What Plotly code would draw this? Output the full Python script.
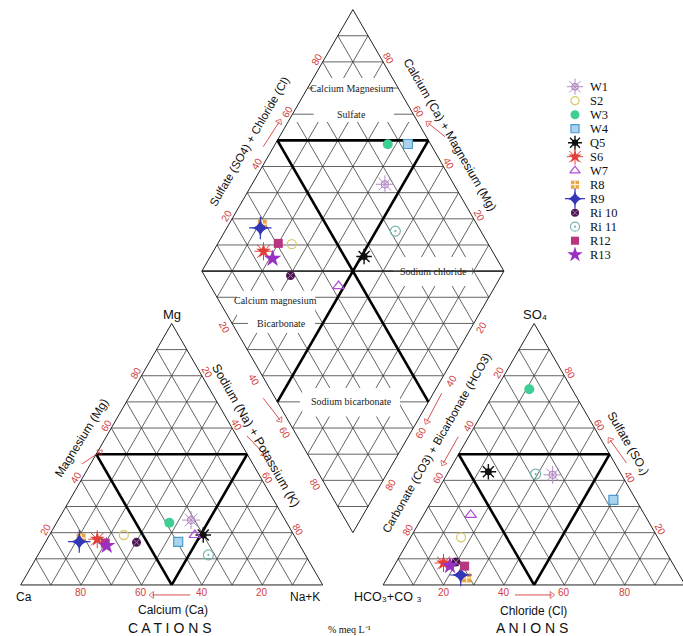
import numpy as np
import plotly.graph_objects as go

# ---------------- sample chemistry (% meq/L) ----------------
samples = ["W1", "S2", "W3", "W4", "Q5", "S6", "W7", "R8", "R9", "Ri 10", "Ri 11", "R12", "R13"]
ca_pct  = [31.2, 56.3, 38.9, 39.6, 30.0, 65.9, 32.8, 71.0, 72.3, 53.5, 32.1, 64.0, 64.0]
mg_pct  = [24.8, 19.1, 23.8, 16.5, 19.1, 17.5, 19.1, 18.0, 16.6, 16.3, 11.5, 16.0, 15.0]
so4_pct = [42.1, 18.2, 74.8, 32.5, 43.3,  8.4, 26.8,  2.7,  3.8,  8.8, 42.4,  7.2,  7.3]
cl_pct  = [35.1, 16.7, 11.0, 60.0, 13.2, 15.8, 15.6, 26.3, 23.8, 19.7, 29.3, 23.4, 18.5]

tick_values = [20, 40, 60, 80]

# ---------------- marker styles per sample ----------------
# each layer: (symbol, size, colour, line width)
styles = {
    "W1":    [("circle-open", 7, "#b48cc4", 1.2), ("asterisk-open", 15, "#b48cc4", 1.0)],
    "S2":    [("circle-open", 9, "#d8cb6c", 1.3)],
    "W3":    [("circle", 10, "#3fcf95", 0)],
    "W4":    [("square", 9, "#a9d3ef", 1.2)],
    "Q5":    [("circle", 7, "#111111", 0), ("asterisk-open", 13, "#111111", 1.4)],
    "S6":    [("star", 11, "#e0403a", 0), ("asterisk-open", 15, "#e0403a", 1.0)],
    "W7":    [("triangle-up-open", 10, "#b14ad6", 1.2)],
    "R8":    [("square", 9, "#e8a64a", 0), ("cross-thin-open", 6, "#fff0cc", 1.2)],
    "R9":    [("star-diamond", 12, "#3437b8", 0), ("cross-thin-open", 16, "#3437b8", 1.2)],
    "Ri 10": [("circle", 9, "#4c1750", 0), ("x-thin-open", 6, "#a07aa6", 1.0)],
    "Ri 11": [("circle-open-dot", 10, "#74b4ad", 1.2)],
    "R12":   [("square", 9, "#b8367f", 0)],
    "R13":   [("star", 13, "#9a2fc4", 0)],
}
square_edge = {"W4": "#4b9bd0"}

S = np.sqrt(3) / 2
GAP = 20.0                       # gap between the two triangles
AX0 = 100 + GAP                  # left x of the anion triangle
DB = (100 + GAP / 2, GAP * S)    # bottom vertex of the diamond
DMID = DB[1] + 100 * S           # height of the diamond's side vertices

RED = "#d23c3c"
GRID = "#3c3c3c"
SANS = "Liberation Sans, Arial, sans-serif"
SERIF = "Liberation Serif, Times New Roman, serif"

ca = np.array(ca_pct); mg = np.array(mg_pct)
nak = 100 - ca - mg
so4 = np.array(so4_pct); cl = np.array(cl_pct)
hco3 = 100 - so4 - cl

# ---------------- Piper projections ----------------
cat_x = nak + mg / 2
cat_y = mg * S
an_x = AX0 + cl + so4 / 2
an_y = so4 * S
u = so4 + cl          # SO4 + Cl
v = ca + mg           # Ca + Mg
dm_x = DB[0] + 0.5 * (u - v)
dm_y = DB[1] + S * (u + v)

fig = go.Figure()


def add_lines(segs, color, width):
    xs, ys = [], []
    for (p, q) in segs:
        xs += [p[0], q[0], None]
        ys += [p[1], q[1], None]
    fig.add_trace(go.Scatter(x=xs, y=ys, mode="lines", line=dict(color=color, width=width),
                             hoverinfo="skip", showlegend=False))


def tri_grid(ox, oy, sgn):
    segs = []
    for k in range(1, 10):
        t = 10 * k
        segs.append(((ox + t / 2, oy + sgn * t * S), (ox + 100 - t / 2, oy + sgn * t * S)))
        segs.append(((ox + t, oy), (ox + 50 + t / 2, oy + sgn * (100 - t) * S)))
        segs.append(((ox + t, oy), (ox + t / 2, oy + sgn * t * S)))
    return segs


def tri_outline(ox, oy, sgn):
    return [((ox, oy), (ox + 100, oy)), ((ox + 100, oy), (ox + 50, oy + sgn * 100 * S)),
            ((ox + 50, oy + sgn * 100 * S), (ox, oy))]


def diamond_half_width(y):
    # half width of the diamond at height y
    return 50 - abs(y - DMID) / (2 * S)


# ---------------- grids ----------------
# horizontal lines of the diamond that carry facies names are drawn later, with a gap
name_levels = {7: DMID + 70 * S, 6: DMID + 60 * S, 0: DMID, -1: DMID - 10 * S, -2: DMID - 20 * S, -5: DMID - 50 * S}


def is_name_level(y):
    return any(abs(y - yl) < 1e-6 for yl in name_levels.values())


grid = tri_grid(0, 0, 1) + tri_grid(AX0, 0, 1)
for seg in tri_grid(DB[0] - 50, DMID, 1) + tri_grid(DB[0] - 50, DMID, -1):
    (p, q) = seg
    if abs(p[1] - q[1]) < 1e-9 and is_name_level(p[1]):
        continue
    grid.append(seg)
add_lines(grid, GRID, 0.8)


# white areas behind the hydrochemical facies names
def band_poly(y0, y1):
    ys = [y0, y0, y1, y1, y0]
    xs = [DB[0] - diamond_half_width(y0), DB[0] + diamond_half_width(y0),
          DB[0] + diamond_half_width(y1), DB[0] - diamond_half_width(y1), DB[0] - diamond_half_width(y0)]
    return xs, ys


def rect_poly(x0, x1, y0, y1):
    return [x0, x1, x1, x0, x0], [y0, y0, y1, y1, y0]


boxes = [band_poly(153.3, 167.9), rect_poly(124.0, 149.4, 99.0, 108.6),
         rect_poly(71.6, 97.5, 83.4, 97.4), rect_poly(93.2, 125.6, 55.8, 65.2)]
for bx, by in boxes:
    fig.add_trace(go.Scatter(x=bx, y=by, mode="lines", fill="toself", fillcolor="white",
                             line=dict(color="white", width=0), hoverinfo="skip", showlegend=False))

# facies name lines: (level, gap start x, gap end x)
name_gaps = [(7, 97.0, 122.3), (6, 97.0, 123.6), (0, 123.3, 150.8),
             (-1, 71.6, 97.5), (-2, 75.3, 97.5), (-5, 92.5, 125.6)]
gap_segs = []
for lvl, g0, g1 in name_gaps:
    y = name_levels[lvl]
    hw = diamond_half_width(y)
    gap_segs.append(((DB[0] - hw, y), (g0, y)))
    gap_segs.append(((g1, y), (DB[0] + hw, y)))
add_lines(gap_segs, GRID, 0.8)

# outlines
outline = tri_outline(0, 0, 1) + tri_outline(AX0, 0, 1) + tri_outline(DB[0] - 50, DMID, 1) + tri_outline(DB[0] - 50, DMID, -1)
add_lines(outline, "#222222", 1.0)

# thick classification lines
h = 50 * S
thick = [((25, h), (75, h)), ((75, h), (50, 0)), ((50, 0), (25, h)),
         ((AX0 + 25, h), (AX0 + 75, h)), ((AX0 + 75, h), (AX0 + 50, 0)), ((AX0 + 50, 0), (AX0 + 25, h)),
         ((DB[0] - 25, DMID + h), (DB[0] + 25, DMID + h)),
         ((DB[0] - 25, DMID + h), (DB[0] + 25, DMID - h)),
         ((DB[0] + 25, DMID + h), (DB[0] - 25, DMID - h))]
add_lines(thick, "#000000", 2.6)

# ---------------- direction arrows ----------------
arrows = [
    ((56.06, -3.31), (43.48, -3.31)),
    ((20.30, 40.07), (26.26, 44.04)),
    ((74.93, 49.34), (80.56, 43.38)),
    ((80.33, 61.82), (85.86, 54.64)),
    ((163.67, -3.31), (175.83, -3.31)),
    ((200.66, 40.30), (195.13, 48.01)),
    ((144.90, 49.11), (139.93, 40.30)),
    ((139.40, 63.48), (134.44, 54.07)),
    ((80.33, 145.13), (85.63, 153.41)),
    ((140.50, 148.44), (134.97, 152.88)),
]
for (tail, head) in arrows:
    fig.add_trace(go.Scatter(
        x=[tail[0], head[0]], y=[tail[1], head[1]], mode="lines+markers",
        line=dict(color=RED, width=0.9), hoverinfo="skip", showlegend=False,
        marker=dict(symbol=["circle", "triangle-up-open"], size=[0, 6], angleref="previous",
                    color=RED, line=dict(color=RED, width=1))))

# ---------------- sample markers ----------------
for i, name in enumerate(samples):
    for (sym, size, col, lw) in styles[name]:
        edge = square_edge.get(name, col)
        fig.add_trace(go.Scatter(
            x=[cat_x[i], an_x[i], dm_x[i]], y=[cat_y[i], an_y[i], dm_y[i]],
            mode="markers", name=name, showlegend=False, hovertemplate=name + "<extra></extra>",
            marker=dict(symbol=sym, size=size, color=col, line=dict(color=edge, width=lw))))

# legend keys, drawn on a pixel-based overlay axis
LEG_X, LEG_Y0, LEG_DY = 575, 86.7, 14.0
for i, name in enumerate(samples):
    for (sym, size, col, lw) in styles[name]:
        edge = square_edge.get(name, col)
        fig.add_trace(go.Scatter(
            x=[LEG_X], y=[LEG_Y0 + LEG_DY * i], xaxis="x2", yaxis="y2",
            mode="markers", showlegend=False, hoverinfo="skip",
            marker=dict(symbol=sym, size=size * 0.9, color=col, line=dict(color=edge, width=lw))))

annotations = []
for i, name in enumerate(samples):
    annotations.append(dict(x=LEG_X + 13, y=LEG_Y0 + LEG_DY * i, xref="x2", yref="y2", text=name,
                            showarrow=False, xanchor="left", yanchor="middle",
                            font=dict(family=SERIF, size=12.5, color="#111")))


def txt(x, y, text, size=12, angle=0, family=SANS, color="#111", **kw):
    d = dict(x=x, y=y, xref="x", yref="y", text=text, showarrow=False, textangle=angle,
             font=dict(family=family, size=size, color=color))
    d.update(kw)
    annotations.append(d)


# ---------------- red tick numbers ----------------
n_ul, n_ur = (-S, 0.5), (S, 0.5)
n_ll, n_lr = (-S, -0.5), (S, -0.5)


def tick(px, py, n, off, val, ang):
    txt(px + n[0] * off, py + n[1] * off, str(val), size=10, angle=ang, color=RED)


for val in tick_values:
    # cation triangle
    txt(100 - val, -2.6, str(val), size=10, color=RED)
    tick(val / 2, val * S, n_ul, 2.0, val, -60)
    tick(50 + val / 2, (100 - val) * S, n_ur, 2.0, val, 60)
    # anion triangle
    txt(AX0 + val, -2.6, str(val), size=10, color=RED)
    tick(AX0 + (100 - val) / 2, (100 - val) * S, n_ul, 2.0, val, -60)
    tick(AX0 + 100 - val / 2, val * S, n_ur, 2.0, val, 60)
    # diamond
    tick(DB[0] - 50 + val / 2, DMID + val * S, n_ul, 2.0, val, -60)
    tick(DB[0] + 50 - val / 2, DMID + val * S, n_ur, 2.0, val, 60)
    tick(DB[0] - (100 - val) / 2, DB[1] + (100 - val) * S, n_ll, 3.0, val, 60)
    tick(DB[0] + (100 - val) / 2, DB[1] + (100 - val) * S, n_lr, 3.0, val, -60)

# ---------------- axis names ----------------
txt(50.0, 89.4, "Mg", size=13)
txt(1.0, -4.0, "Ca", size=12)
txt(94.1, -4.0, "Na+K", size=12)
txt(50.5, -8.3, "Calcium (Ca)", size=12)
txt(49.4, -14.3, "C A T I O N S", size=14)
txt(20.2, 48.6, "Magnesium (Mg)", size=12, angle=-58)
txt(77.9, 49.3, "Sodium (Na) + Potassium (K)", size=12.5, angle=60)

txt(170.3, 89.4, "SO₄", size=13)
txt(121.3, -4.0, "HCO₃+CO ₃", size=12.5)
txt(220.0, -4.0, "Cl", size=12)
txt(169.7, -8.5, "Chloride (Cl)", size=12)
txt(169.2, -14.3, "A N I O N S", size=14)
txt(201.1, 47.0, "Sulfate (SO₄)", size=12, angle=60)
txt(137.7, 47.0, "Carbonate (CO3) + Bicarbonate (HCO3)", size=11.5, angle=-60)

txt(75.6, 146.7, "Sulfate (SO4) + Chloride (Cl)", size=11.5, angle=-60)
txt(142.2, 149.0, "Calcium (Ca) + Magnesium (Mg)", size=12, angle=60)
txt(109.0, -14.9, "% meq L⁻¹", size=10, family=SERIF)

# hydrochemical facies names inside the diamond
facies = [
    (109.6, name_levels[7], "Calcium Magnesium"),
    (109.6, name_levels[6], "Sulfate"),
    (136.8, name_levels[0], "Sodium chloride"),
    (84.5, name_levels[-1] - 1.2, "Calcium magnesium"),
    (86.4, name_levels[-2], "Bicarbonate"),
    (109.6, name_levels[-5], "Sodium bicarbonate"),
]
for fx, fy, name in facies:
    txt(fx, fy, name, size=10, family=SERIF, color="#222")

fig.update_layout(
    width=683, height=636, autosize=False,
    margin=dict(l=0, r=0, t=0, b=0),
    paper_bgcolor="white", plot_bgcolor="white",
    showlegend=False,
    xaxis=dict(range=[-6.85, 219.3], visible=False, fixedrange=True),
    yaxis=dict(range=[-16.9, 193.7], visible=False, fixedrange=True),
    xaxis2=dict(overlaying="x", range=[0, 683], visible=False, fixedrange=True),
    yaxis2=dict(overlaying="y", range=[636, 0], visible=False, fixedrange=True),
    annotations=annotations,
)

fig.write_html("out.html")
